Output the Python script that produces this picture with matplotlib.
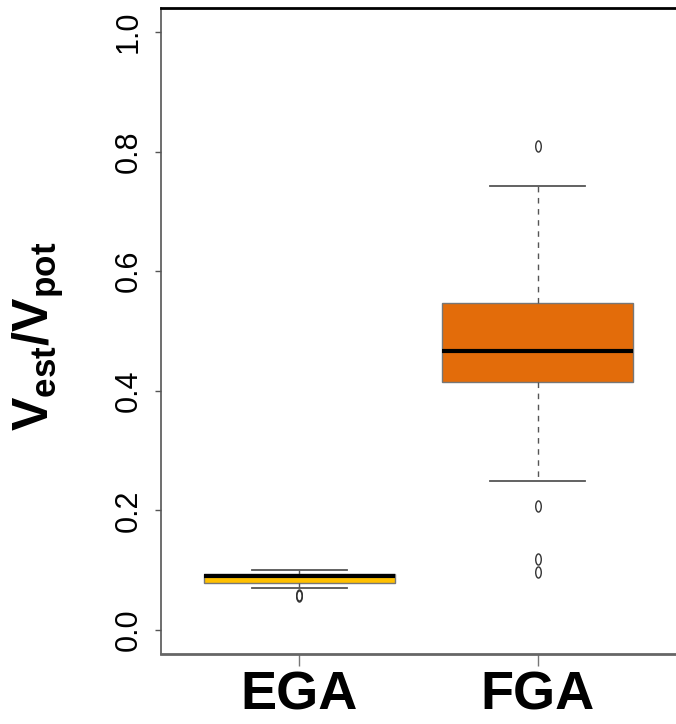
import matplotlib
matplotlib.use("Agg")
import matplotlib.pyplot as plt
from matplotlib.path import Path
from matplotlib.transforms import Affine2D

plt.rcParams['font.family'] = ['Liberation Sans', 'DejaVu Sans']
plt.rcParams['mathtext.fontset'] = 'custom'
plt.rcParams['mathtext.rm'] = 'Liberation Sans'
plt.rcParams['mathtext.bf'] = 'Liberation Sans:bold'

# ---- data ----
groups = ["EGA", "FGA"]
q1 = [0.078, 0.414]
median = [0.090, 0.466]
q3 = [0.093, 0.547]
whisker_low = [0.070, 0.250]
whisker_high = [0.100, 0.742]
outliers = [[0.057, 0.058], [0.810, 0.208, 0.119, 0.097]]
fill_colors = ["#FFC000", "#E36C0A"]
yticks = [0.0, 0.2, 0.4, 0.6, 0.8, 1.0]

fig = plt.figure(figsize=(6.76, 7.24), dpi=100)
ax = fig.add_axes([161/676, 1 - 654/724, 515/676, (654 - 8)/724])

stats = []
for i, g in enumerate(groups):
    stats.append(dict(label=g, med=median[i], q1=q1[i], q3=q3[i],
                      whislo=whisker_low[i], whishi=whisker_high[i],
                      fliers=outliers[i]))

ellipse = Path.unit_circle().transformed(Affine2D().scale(0.5, 1.0))

bp = ax.bxp(stats, positions=[1, 2], widths=0.8, patch_artist=True,
            showfliers=True,
            boxprops=dict(edgecolor="#777777", linewidth=1.0),
            medianprops=dict(color="black", linewidth=3.0, solid_capstyle="butt"),
            whiskerprops=dict(color="#555555", linewidth=1.0, linestyle=(0, (4, 4))),
            capprops=dict(color="#555555", linewidth=1.3),
            capwidths=0.4,
            flierprops=dict(marker=ellipse, markersize=8, markerfacecolor="none",
                            markeredgecolor="#333333", markeredgewidth=1.0,
                            linestyle="none"))
for patch, c in zip(bp["boxes"], fill_colors):
    patch.set_facecolor(c)

ax.set_xlim(0.42, 2.58)
ax.set_ylim(-0.04, 1.04)
ax.set_yticks(yticks)
ax.set_yticklabels([f"{v:.1f}" for v in yticks])
ax.set_xticks([1, 2])
ax.set_xticklabels(groups, fontsize=39, fontweight="bold")

ax.tick_params(axis="y", length=4.3, width=1.0, color="#555555", labelsize=22, pad=8)
ax.tick_params(axis="x", length=8.6, width=1.0, color="#777777", pad=3.5)
for lab in ax.get_yticklabels():
    lab.set_rotation(90)
    lab.set_va("center")

ax.spines["right"].set_visible(False)
ax.spines["top"].set_color("black")
ax.spines["top"].set_linewidth(2.0)
ax.spines["bottom"].set_color("#666666")
ax.spines["bottom"].set_linewidth(2.0)
ax.spines["left"].set_color("#555555")
ax.spines["left"].set_linewidth(1.2)

fig.text(38/676, 1 - 336/724, r"$\mathbf{V}_{\mathbf{est}}\mathbf{/V}_{\mathbf{pot}}$",
         rotation=90, ha="center", va="center", fontsize=36)

fig.savefig("out.png", dpi=100)
